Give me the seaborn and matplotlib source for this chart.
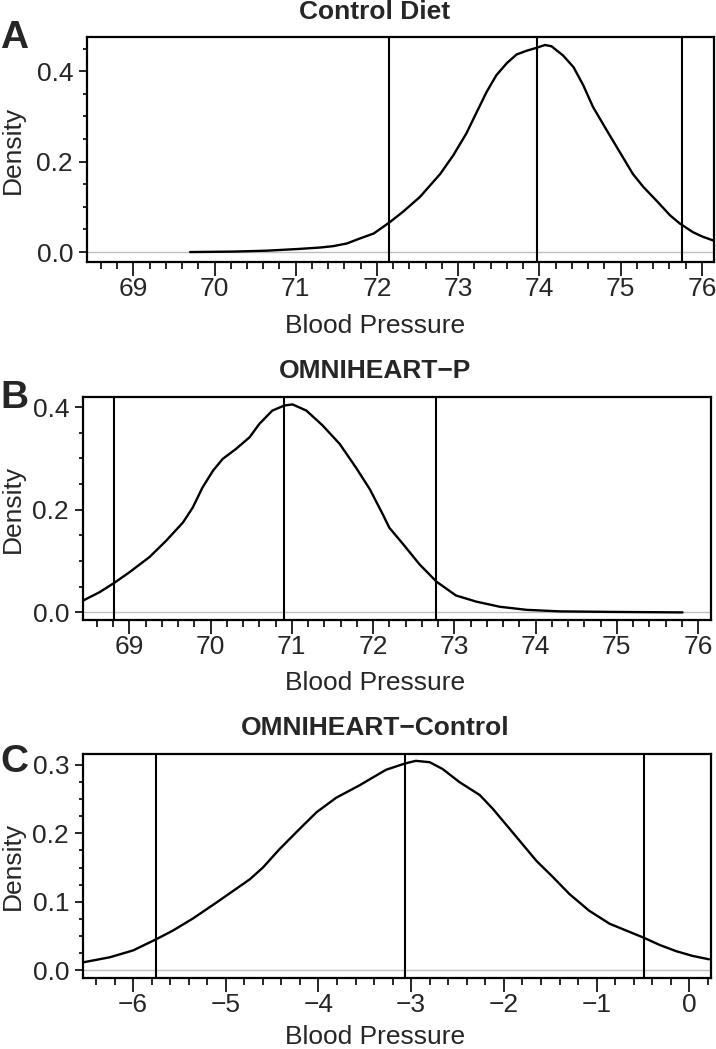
import numpy as np
import matplotlib
matplotlib.use("Agg")
import matplotlib.pyplot as plt
from matplotlib.ticker import MultipleLocator, FormatStrFormatter
import seaborn as sns

sns.set_style("white")
plt.rcParams["font.family"] = ["Liberation Sans", "DejaVu Sans"]

# Curvas de densidad
ctrl_x = [69.70, 70.23, 70.64, 71.05, 71.30, 71.46, 71.63, 71.79, 71.96, 72.15, 72.32,
          72.53, 72.78, 72.94, 73.10, 73.23, 73.35, 73.47, 73.60, 73.72, 73.84, 73.97,
          74.07, 74.15, 74.29, 74.42, 74.54, 74.66, 74.83, 74.99, 75.15, 75.28, 75.44,
          75.61, 75.73, 75.89, 76.01, 76.15]
ctrl_y = [0.000, 0.001, 0.003, 0.007, 0.010, 0.013, 0.019, 0.030, 0.041, 0.065, 0.089,
          0.122, 0.173, 0.214, 0.262, 0.310, 0.354, 0.391, 0.418, 0.437, 0.445, 0.452,
          0.458, 0.455, 0.435, 0.409, 0.369, 0.321, 0.269, 0.221, 0.173, 0.144, 0.114,
          0.081, 0.063, 0.044, 0.034, 0.025]

omni_x = [68.43, 68.63, 68.81, 69.00, 69.25, 69.45, 69.66, 69.78, 69.90, 70.03, 70.15,
          70.31, 70.48, 70.60, 70.76, 70.91, 71.01, 71.18, 71.38, 71.59, 71.79, 71.96,
          72.12, 72.20, 72.37, 72.57, 72.78, 73.02, 73.27, 73.56, 73.89, 74.30, 74.91,
          75.81]
omni_y = [0.023, 0.039, 0.057, 0.078, 0.108, 0.139, 0.175, 0.204, 0.243, 0.276, 0.299,
          0.318, 0.341, 0.367, 0.393, 0.403, 0.405, 0.393, 0.364, 0.328, 0.282, 0.240,
          0.191, 0.165, 0.133, 0.094, 0.060, 0.033, 0.021, 0.011, 0.005, 0.002, 0.001,
          0.000]

diff_x = [-6.53, -6.25, -6.00, -5.755, -5.57, -5.35, -5.10, -4.92, -4.74, -4.60, -4.42,
          -4.20, -4.02, -3.81, -3.56, -3.41, -3.27, -3.07, -2.95, -2.80, -2.66, -2.48,
          -2.26, -2.12, -1.94, -1.65, -1.47, -1.29, -1.08, -0.86, -0.68, -0.49, -0.32,
          -0.144, 0.034, 0.214]
diff_y = [0.0118, 0.019, 0.029, 0.045, 0.058, 0.076, 0.099, 0.116, 0.133, 0.150, 0.177,
          0.207, 0.231, 0.252, 0.270, 0.282, 0.293, 0.302, 0.306, 0.304, 0.294, 0.275,
          0.256, 0.236, 0.207, 0.160, 0.136, 0.111, 0.087, 0.068, 0.058, 0.0475, 0.037,
          0.028, 0.021, 0.016]

# Intervalos (limite inferior, mediana, limite superior)
ctrl_ci = [72.15, 73.97, 75.76]
omni_ci = [68.81, 70.91, 72.78]
diff_ci = [-5.755, -3.07, -0.49]

titulos = ["Control Diet", "OMNIHEART\u2212P", "OMNIHEART\u2212Control"]
letras = ["A", "B", "C"]

W, H = 716, 1049
fig = plt.figure(figsize=(W / 100, H / 100), dpi=100)

def px(x0, y0, x1, y1):
    return [x0 / W, 1 - y1 / H, (x1 - x0) / W, (y1 - y0) / H]

paneles = [
    dict(rect=px(87, 37, 714, 262), x=ctrl_x, y=ctrl_y, ci=ctrl_ci,
         xlim=(68.43, 76.15), ylim=(-0.022, 0.4756), ymaj=0.2, ymin=0.05,
         title_y=19, label_y=333, letter_y=48),
    dict(rect=px(83, 397, 711, 620), x=omni_x, y=omni_y, ci=omni_ci,
         xlim=(68.43, 76.16), ylim=(-0.0148, 0.4195), ymaj=0.2, ymin=0.05,
         title_y=378, label_y=690, letter_y=408),
    dict(rect=px(83, 754, 711, 978), x=diff_x, y=diff_y, ci=diff_ci,
         xlim=(-6.54, 0.234), ylim=(-0.0113, 0.316), ymaj=0.1, ymin=0.025,
         title_y=735, label_y=1044, letter_y=772),
]

for i, p in enumerate(paneles):
    ax = fig.add_axes(p["rect"])
    ax.axhline(0, color="#bebebe", linewidth=1.0, zorder=1)
    sns.lineplot(x=p["x"], y=p["y"], ax=ax, color="black", linewidth=1.7,
                 sort=False, estimator=None, zorder=3)
    for v in p["ci"]:
        ax.axvline(v, color="black", linewidth=1.5, zorder=2)
    ax.set_xlim(*p["xlim"])
    ax.set_ylim(*p["ylim"])
    ax.xaxis.set_major_locator(MultipleLocator(1))
    ax.xaxis.set_minor_locator(MultipleLocator(0.2))
    ax.yaxis.set_major_locator(MultipleLocator(p["ymaj"]))
    ax.yaxis.set_minor_locator(MultipleLocator(p["ymin"]))
    ax.yaxis.set_major_formatter(FormatStrFormatter("%.1f"))
    ax.tick_params(axis="x", which="major", direction="out", length=10, width=1.4,
                   pad=1, labelsize=19, bottom=True)
    ax.tick_params(axis="x", which="minor", direction="out", length=5, width=1.4,
                   bottom=True)
    ax.tick_params(axis="y", which="major", direction="out", length=6, width=1.4,
                   pad=4, labelsize=19, left=True)
    ax.tick_params(axis="y", which="minor", direction="out", length=3, width=1.4,
                   left=True)
    for s in ax.spines.values():
        s.set_linewidth(1.6)
        s.set_color("black")
    ax.set_xlabel("")
    ax.set_ylabel("")

    fig.text(375 / W, 1 - p["title_y"] / H, titulos[i], ha="center", va="baseline",
             fontsize=19, fontweight="bold")
    fig.text(375 / W, 1 - p["label_y"] / H, "Blood Pressure", ha="center",
             va="baseline", fontsize=19)
    fig.text(13 / W, p["rect"][1] + p["rect"][3] / 2, "Density", rotation=90,
             ha="center", va="center", fontsize=19)
    fig.text(0 / W, 1 - p["letter_y"] / H, letras[i], ha="left", va="baseline",
             fontsize=28, fontweight="bold")

fig.savefig("out.png", dpi=100)
